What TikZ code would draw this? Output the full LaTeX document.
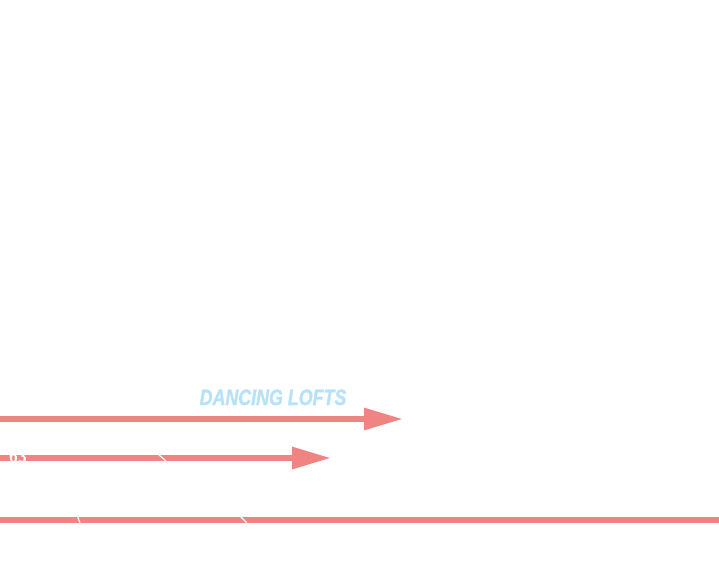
\documentclass[tikz,border=0pt]{standalone}
\usepackage{fontspec}
\usepackage{xcolor}
\usepackage{tikz}
\usetikzlibrary{arrows.meta}

\newfontfamily\loftfont[FakeStretch=0.8, FakeBold=1.2]{Liberation Sans}
\definecolor{loftred}{HTML}{F08482}
\definecolor{loftblue}{HTML}{B5E2F8}

\tikzset{
  route/.style={draw=loftred, line width=6pt},
  routearrow/.style={route, -{Triangle[length=39pt, width=21pt]}},
  gap/.style={draw=white, line width=1.2pt}
}

\begin{document}
\begin{tikzpicture}[x=1pt, y=-1pt]
  \useasboundingbox (0, 0) rectangle (719, 576);

  % Label
  \node[anchor=base, inner sep=0pt, text=loftblue, font=\loftfont\bfseries\itshape\fontsize{22.3}{24}\selectfont] (lofts) at (273, 405) {DANCING LOFTS};

  % Upper route
  \coordinate (upA) at (0, 419);
  \coordinate (upB) at (403, 419);
  \draw[routearrow] (upA) -- (upB);

  % Middle route
  \coordinate (midA) at (0, 458);
  \coordinate (midB) at (331, 458);
  \draw[routearrow] (midA) -- (midB);
  \node[anchor=north west, inner sep=0pt, text=white, font=\sffamily\bfseries\fontsize{16}{17}\selectfont] (num) at (9, 451) {63};
  \draw[gap] (158, 454) -- (166, 461);

  % Lower route
  \coordinate (lowA) at (0, 519.5);
  \coordinate (lowB) at (719, 519.5);
  \draw[route] (lowA) -- (lowB);
  \draw[gap] (77, 515) -- (80, 523);
  \draw[gap] (239, 515) -- (247, 523);
\end{tikzpicture}
\end{document}
